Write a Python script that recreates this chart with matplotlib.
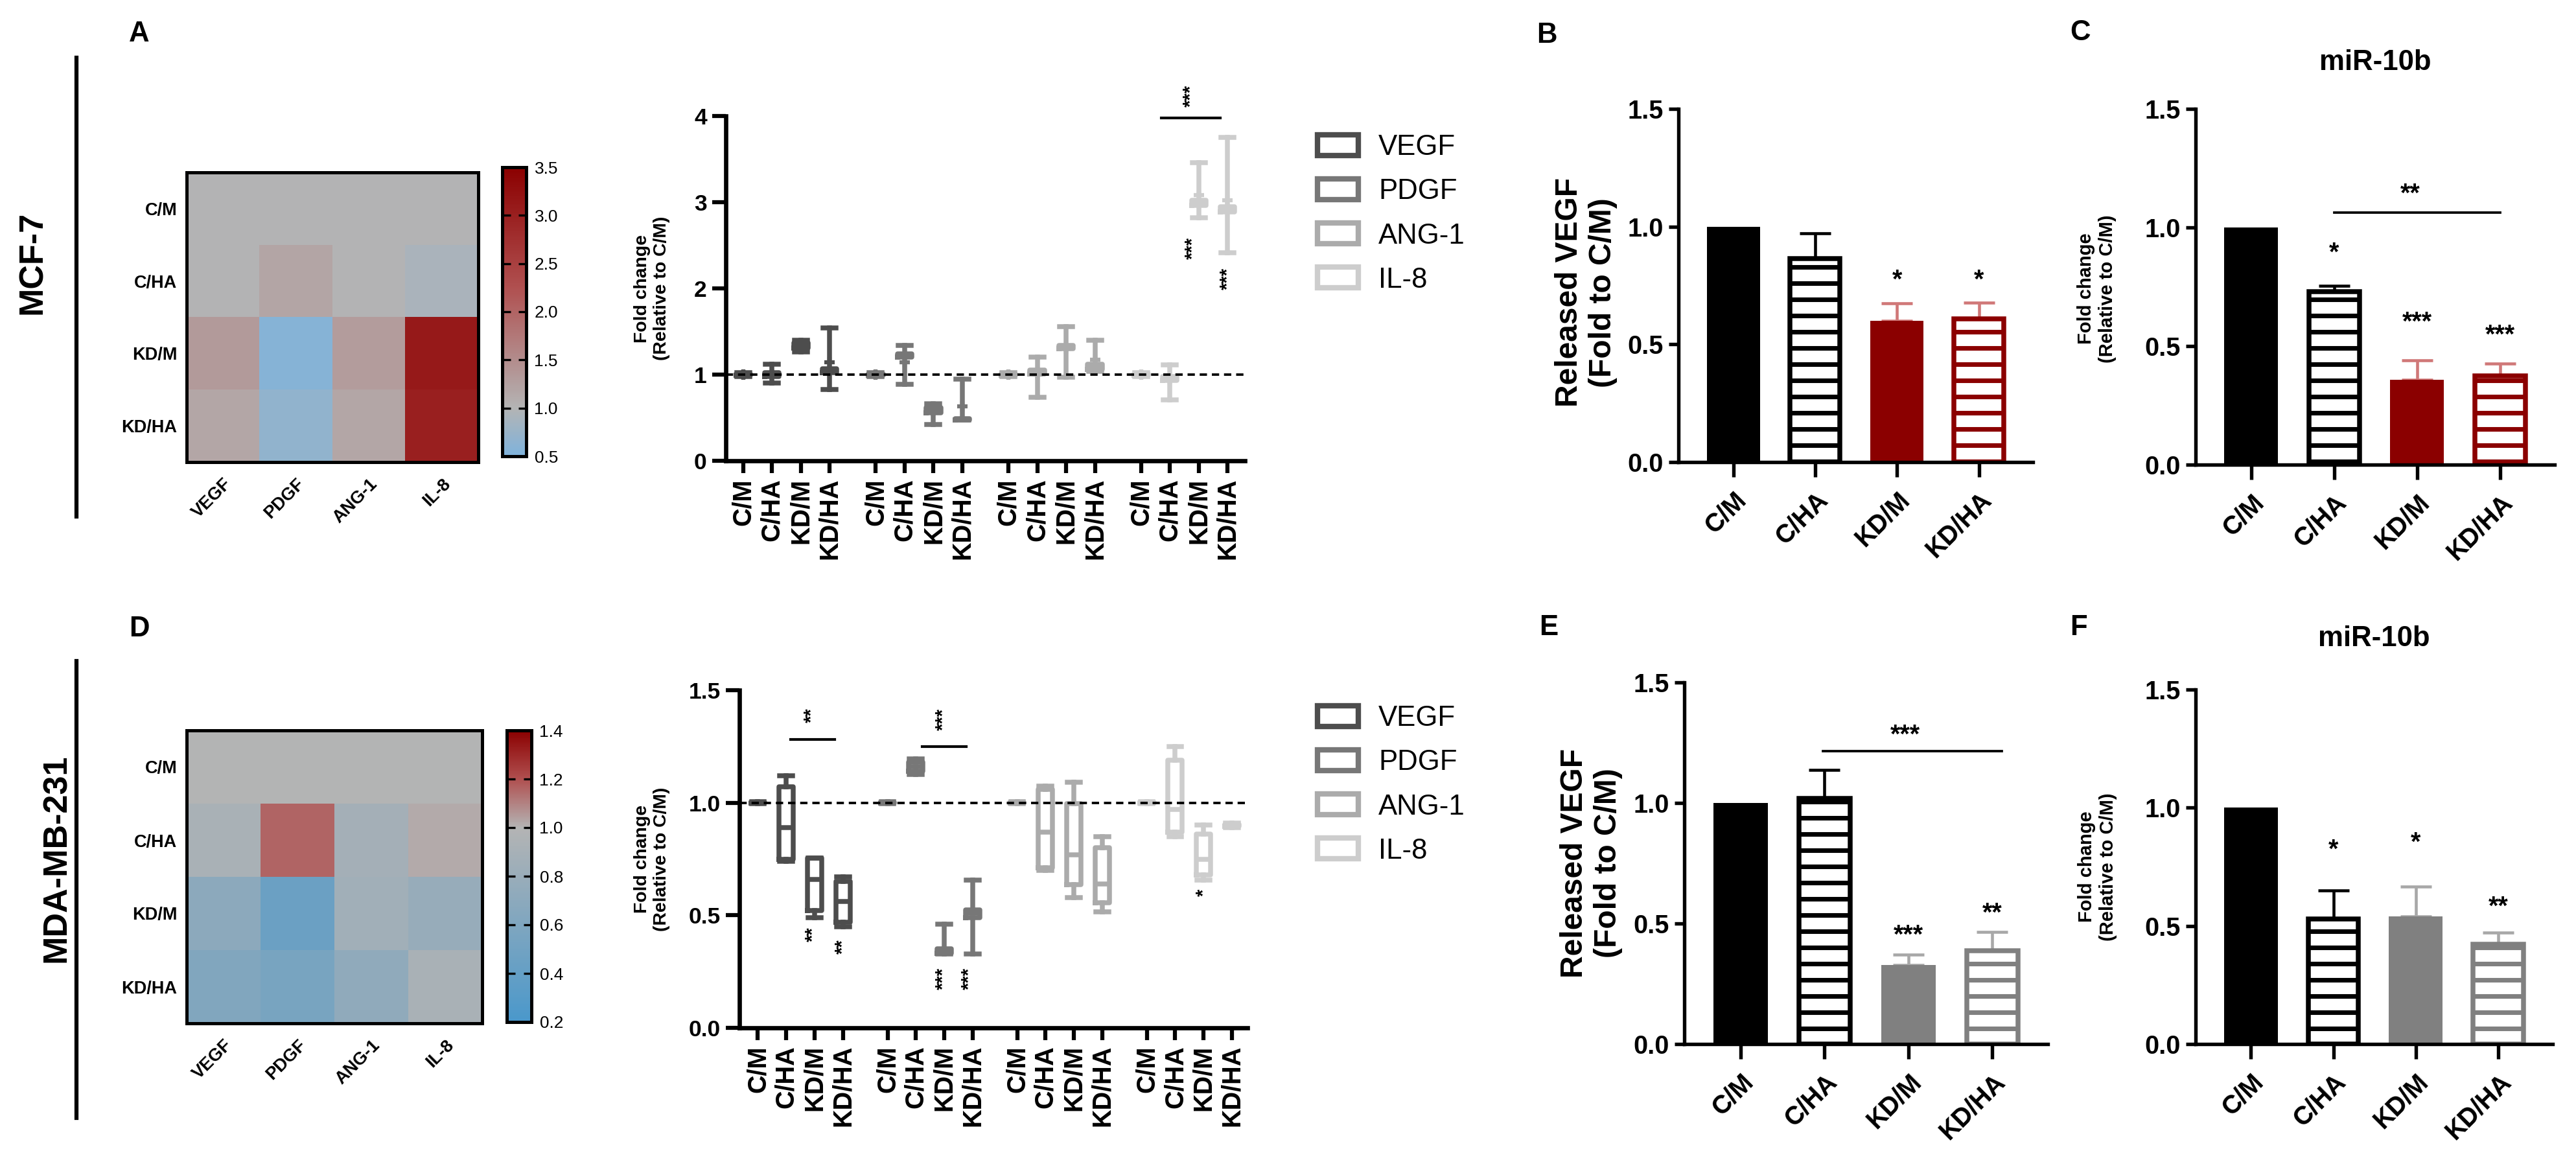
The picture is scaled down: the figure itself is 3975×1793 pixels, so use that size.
import numpy as np
import matplotlib
matplotlib.use('Agg')
import matplotlib.pyplot as plt
from matplotlib.colors import LinearSegmentedColormap
from matplotlib.patches import Patch
from matplotlib.lines import Line2D

plt.rcParams['font.family'] = ['Liberation Sans', 'DejaVu Sans']
plt.rcParams['hatch.linewidth'] = 1.7

# ---------------- data ----------------
groups = ['C/M', 'C/HA', 'KD/M', 'KD/HA']
cytokines = ['VEGF', 'PDGF', 'ANG-1', 'IL-8']
cyt_colors = ['#4d4d4d', '#777777', '#ababab', '#cdcdcd']

# heatmaps (rows = groups, cols = cytokines), fold change
heat_mcf7 = [[1.00, 1.00, 1.00, 1.00],
             [1.00, 1.18, 1.00, 0.92],
             [1.33, 0.58, 1.30, 3.10],
             [1.17, 0.68, 1.17, 3.00]]
heat_mda = [[1.00, 1.00, 1.00, 1.00],
            [0.92, 1.16, 0.88, 1.02],
            [0.70, 0.45, 0.86, 0.79],
            [0.62, 0.55, 0.73, 0.92]]
cbar_ticks_mcf7 = [0.5, 1.0, 1.5, 2.0, 2.5, 3.0, 3.5]
cbar_ticks_mda = [0.2, 0.4, 0.6, 0.8, 1.0, 1.2, 1.4]

# box plots: (min, q1, median, q3, max) per group
mcf7_vegf = [(0.98, 0.99, 1.00, 1.01, 1.02), (0.90, 0.98, 1.00, 1.02, 1.12),
             (1.26, 1.31, 1.34, 1.37, 1.40), (0.83, 1.02, 1.05, 1.07, 1.54)]
mcf7_pdgf = [(0.98, 0.99, 1.00, 1.01, 1.02), (0.89, 1.20, 1.22, 1.24, 1.34),
             (0.42, 0.56, 0.59, 0.62, 0.66), (0.47, 0.47, 0.48, 0.49, 0.95)]
mcf7_ang1 = [(0.98, 0.99, 1.00, 1.01, 1.02), (0.74, 1.01, 1.03, 1.05, 1.20),
             (0.97, 1.30, 1.32, 1.34, 1.56), (1.04, 1.06, 1.09, 1.12, 1.40)]
mcf7_il8 = [(0.98, 0.99, 1.00, 1.01, 1.02), (0.71, 0.93, 0.96, 0.98, 1.11),
            (2.82, 2.96, 2.99, 3.02, 3.46), (2.41, 2.89, 2.92, 2.95, 3.75)]
mcf7_means = [[1.00, 1.00, 1.33, 1.14], [1.00, 1.14, 0.58, 0.63],
              [1.00, 1.00, 1.30, 1.17], [1.00, 0.95, 3.08, 3.02]]

mda_vegf = [(0.995, 0.998, 1.00, 1.002, 1.005), (0.74, 0.75, 0.89, 1.07, 1.12),
            (0.49, 0.52, 0.66, 0.755, 0.755), (0.45, 0.47, 0.56, 0.65, 0.67)]
mda_pdgf = [(0.995, 0.998, 1.00, 1.002, 1.005), (1.125, 1.14, 1.16, 1.18, 1.195),
            (0.327, 0.33, 0.33, 0.35, 0.46), (0.327, 0.49, 0.51, 0.525, 0.655)]
mda_ang1 = [(0.995, 0.998, 1.00, 1.002, 1.005), (0.70, 0.71, 0.87, 1.06, 1.075),
            (0.58, 0.635, 0.77, 0.995, 1.09), (0.515, 0.555, 0.64, 0.80, 0.85)]
mda_il8 = [(0.995, 0.998, 1.00, 1.002, 1.005), (0.85, 0.87, 0.97, 1.19, 1.25),
           (0.655, 0.68, 0.75, 0.86, 0.90), (0.89, 0.895, 0.90, 0.905, 0.91)]

# significance marks in box plots: (position index, y, text)
mcf7_box_stars = [(15.6, 2.47, '***'), (16.8, 2.11, '***')]
mcf7_box_bracket = (14.5, 16.55, 3.98, 4.23, '***')
mda_box_stars = [(1.95, 0.415, '**'), (3.0, 0.36, '**'),
                 (6.55, 0.22, '***'), (7.45, 0.22, '***'), (15.72, 0.60, '*')]
mda_box_brackets = [(1.16, 2.7, 1.28, 1.39, '**'), (5.8, 7.35, 1.25, 1.37, '***')]

# bar charts
B_vals = [1.00, 0.864, 0.600, 0.607]
B_err = [0.0, 0.107, 0.075, 0.070]
B_stars = [(2, 0.77, '*'), (3, 0.77, '*')]

C_vals = [1.00, 0.730, 0.358, 0.373]
C_err = [0.0, 0.023, 0.082, 0.052]
C_stars = [(1, 0.89, '*'), (2, 0.60, '***'), (3, 0.545, '***')]
C_bracket = (1.0, 3.0, 1.064, 1.14, '**')

E_vals = [1.00, 1.020, 0.327, 0.388]
E_err = [0.0, 0.117, 0.043, 0.076]
E_stars = [(2, 0.45, '***'), (3, 0.54, '**')]
E_bracket = (0.98, 3.11, 1.216, 1.28, '***')

F_vals = [1.00, 0.530, 0.540, 0.423]
F_err = [0.0, 0.120, 0.127, 0.050]
F_stars = [(1, 0.82, '*'), (2, 0.85, '*'), (3, 0.58, '**')]

# ---------------- figure ----------------
W, H = 3975, 1793
fig = plt.figure(figsize=(W / 300, H / 300), dpi=300)


def rect(l, t, r, b):
    return [l / W, 1 - b / H, (r - l) / W, (b - t) / H]


def heatmap(r_ax, r_cax, data, vmin, vmax, low, ticks):
    ax = fig.add_axes(rect(*r_ax))
    f = (1.0 - vmin) / (vmax - vmin)
    cmap = LinearSegmentedColormap.from_list(
        'bgr', [(0, low), (f, '#b4b4b4'), (f + (1 - f) * 0.5, '#b05050'), (1, '#8b0000')])
    im = ax.imshow(np.array(data), cmap=cmap, vmin=vmin, vmax=vmax, aspect='auto')
    ax.set_xticks(range(4), cytokines, rotation=45, ha='right', va='top',
                  rotation_mode='anchor', fontsize=6.5, fontweight='bold')
    ax.set_yticks(range(4), groups, fontsize=6.5, fontweight='bold')
    ax.tick_params(length=0)
    ax.tick_params(axis='x', pad=5)
    for s in ax.spines.values():
        s.set_linewidth(1.2)
    cax = fig.add_axes(rect(*r_cax))
    cb = fig.colorbar(im, cax=cax, ticks=ticks)
    cb.outline.set_linewidth(1.2)
    cax.tick_params(direction='in', left=True, right=True, length=3, width=0.8,
                    labelsize=6.3, pad=3)
    cax.set_yticklabels([f'{t:.1f}' for t in ticks])


heatmap((288, 266, 738, 713), (775, 258, 812, 704), heat_mcf7, 0.5, 3.5, '#7fb3dc',
        cbar_ticks_mcf7)
heatmap((288, 1127, 744, 1579), (782, 1127, 820, 1577), heat_mda, 0.2, 1.4, '#4a98cb',
        cbar_ticks_mda)


def star_text(ax, x, y, s, fs, rot=0):
    ax.text(x, y, s, ha='center', va='center', fontsize=fs, fontweight='bold',
            rotation=rot, clip_on=False)


def boxplot(r_ax, series, means, gap, xlim, ylim, yticks, ylabels, ylab_x):
    ax = fig.add_axes(rect(*r_ax))
    for ci, cyt in enumerate(cytokines):
        col = cyt_colors[ci]
        stats = []
        for gi in range(4):
            lo, q1, med, q3, hi = series[ci][gi]
            d = dict(whislo=lo, q1=q1, med=med, q3=q3, whishi=hi, fliers=[])
            if means is not None:
                d['mean'] = means[ci][gi]
            stats.append(d)
        pos = [ci * gap + gi for gi in range(4)]
        lw = 1.8
        ax.bxp(stats, positions=pos, widths=0.5, capwidths=0.45,
               showmeans=means is not None, showfliers=False,
               boxprops=dict(color=col, lw=lw), whiskerprops=dict(color=col, lw=lw),
               capprops=dict(color=col, lw=lw), medianprops=dict(color=col, lw=lw),
               meanprops=dict(marker='+', markeredgecolor=col, markersize=4, mew=1.5),
               manage_ticks=False)
    ax.axhline(1.0, color='black', ls=(0, (3, 2)), lw=0.9, zorder=5)
    ticks = [ci * gap + gi for ci in range(4) for gi in range(4)]
    ax.set_xticks(ticks, groups * 4, rotation=90, ha='center', va='top',
                  fontsize=9.5, fontweight='bold')
    ax.set_xlim(*xlim)
    ax.set_ylim(*ylim)
    ax.set_yticks(yticks, ylabels, fontsize=8.5, fontweight='bold')
    ax.tick_params(axis='y', length=5, width=1.5, pad=2)
    ax.tick_params(axis='x', length=4.5, width=1.5, pad=2)
    for s in ['top', 'right']:
        ax.spines[s].set_visible(False)
    for s in ['left', 'bottom']:
        ax.spines[s].set_linewidth(1.6)
    ax.set_ylabel('Fold change\n(Relative to C/M)', fontsize=6.8, fontweight='bold',
                  va='center')
    ax.yaxis.set_label_coords(ylab_x, 0.5)
    return ax


axA2 = boxplot((1120, 179, 1921, 711), [mcf7_vegf, mcf7_pdgf, mcf7_ang1, mcf7_il8],
               mcf7_means, 4.6, (-0.6, 17.4), (0, 4), [0, 1, 2, 3, 4],
               ['0', '1', '2', '3', '4'], -0.142)
for x, y, s in mcf7_box_stars:
    star_text(axA2, x, y, s, 7, rot=90)
x0, x1, yb, ys, s = mcf7_box_bracket
axA2.plot([x0, x1], [yb, yb], color='black', lw=1.0, clip_on=False)
star_text(axA2, (x0 + x1) / 2, ys, s, 7, rot=90)

axD2 = boxplot((1141, 1065, 1925, 1586), [mda_vegf, mda_pdgf, mda_ang1, mda_il8],
               None, 4.57, (-0.65, 17.26), (0, 1.5), [0, 0.5, 1.0, 1.5],
               ['0.0', '0.5', '1.0', '1.5'], -0.172)
for x, y, s in mda_box_stars:
    star_text(axD2, x, y, s, 7, rot=90)
for x0, x1, yb, ys, s in mda_box_brackets:
    axD2.plot([x0, x1], [yb, yb], color='black', lw=1.0, clip_on=False)
    star_text(axD2, (x0 + x1) / 2 - 0.03, ys, s, 7, rot=90)

# legends
handles = [Patch(facecolor='white', edgecolor=c, lw=2.0) for c in cyt_colors]
for yc in (330, 1211):
    fig.legend(handles, cytokines, loc='center left',
               bbox_to_anchor=(2033 / W, 1 - yc / H), frameon=False, fontsize=10.5,
               handlelength=1.45, handleheight=0.75, handletextpad=0.7,
               labelspacing=0.62, borderpad=0, borderaxespad=0)


def barchart(r_ax, vals, errs, colors, hatched, ecolors, stars, bracket, ylabel,
             ylab_fs, ylab_x, ylab_y, title=None, title_pad=15):
    ax = fig.add_axes(rect(*r_ax))
    x = np.arange(len(vals))
    for i in range(len(vals)):
        if hatched[i]:
            ax.bar(x[i], vals[i], width=0.61, facecolor='white', edgecolor=colors[i],
                   hatch='--', lw=1.8, zorder=2)
        else:
            ax.bar(x[i], vals[i], width=0.65, color=colors[i], lw=0, zorder=2)
        if errs[i] > 0:
            ax.errorbar(x[i], vals[i], yerr=[[0], [errs[i]]], fmt='none',
                        ecolor=ecolors[i], elinewidth=1.1, capsize=5.8, capthick=1.1,
                        zorder=1)
    for xi, y, s in stars:
        star_text(ax, xi, y, s, 9.5)
    if bracket is not None:
        x0, x1, yb, ys, s = bracket
        ax.plot([x0, x1], [yb, yb], color='black', lw=0.9)
        star_text(ax, (x0 + x1) / 2 - 0.08, ys, s, 9.5)
    ax.set_xlim(-0.67, 3.66)
    ax.set_ylim(0, 1.5)
    ax.set_yticks([0, 0.5, 1.0, 1.5], ['0.0', '0.5', '1.0', '1.5'], fontsize=9.5,
                  fontweight='bold')
    ax.set_xticks(x, groups, rotation=45, ha='right', va='top', rotation_mode='anchor',
                  fontsize=9.5, fontweight='bold')
    ax.tick_params(axis='y', length=3.5, width=1.3, pad=2)
    ax.tick_params(axis='x', length=5.4, width=1.3, pad=4)
    for s in ['top', 'right']:
        ax.spines[s].set_visible(False)
    for s in ['left', 'bottom']:
        ax.spines[s].set_linewidth(1.3)
    ax.set_ylabel(ylabel, fontsize=ylab_fs, fontweight='bold', va='center')
    ax.yaxis.set_label_coords(ylab_x, ylab_y)
    if title:
        ax.set_title(title, fontsize=10.5, fontweight='bold', pad=title_pad)
    return ax


red = '#8b0000'
gray = '#808080'
barchart((2590, 168, 3137, 713), B_vals, B_err, ['black', 'black', red, red],
         [False, True, False, True], ['black', 'black', '#d07878', '#d07878'],
         B_stars, None, 'Released VEGF\n(Fold to C/M)', 11.5, -0.26, 0.48)
barchart((3388, 168, 3942, 717), C_vals, C_err, ['black', 'black', red, red],
         [False, True, False, True], ['black', 'black', '#d07878', '#d07878'],
         C_stars, C_bracket, 'Fold change\n(Relative to C/M)', 7, -0.275, 0.495,
         title='miR-10b', title_pad=14.5)
barchart((2599, 1053, 3160, 1611), E_vals, E_err, ['black', 'black', gray, gray],
         [False, True, False, True], ['black', 'black', '#a8a8a8', '#a8a8a8'],
         E_stars, E_bracket, 'Released VEGF\n(Fold to C/M)', 11.5, -0.255, 0.5)
barchart((3388, 1064, 3939, 1611), F_vals, F_err, ['black', 'black', gray, gray],
         [False, True, False, True], ['black', 'black', '#a8a8a8', '#a8a8a8'],
         F_stars, None, 'Fold change\n(Relative to C/M)', 7, -0.275, 0.5,
         title='miR-10b', title_pad=16)

# panel letters
for letter, (px, py) in zip('ABCDEF', [(215, 53), (2387, 55), (3210, 51),
                                        (215, 971), (2390, 968), (3207, 969)]):
    fig.text(px / W, 1 - py / H, letter, fontsize=10.5, fontweight='bold',
             ha='center', va='center')

# cell-line side labels and separators
fig.add_artist(Line2D([118 / W, 118 / W], [1 - 89 / H, 1 - 797 / H], color='black', lw=1.5))
fig.add_artist(Line2D([118 / W, 118 / W], [1 - 1020 / H, 1 - 1725 / H], color='black', lw=1.5))
fig.text(50 / W, 1 - 405 / H, 'MCF-7', rotation=90, fontsize=12.5, fontweight='bold',
         ha='center', va='center')
fig.text(88 / W, 1 - 1324 / H, 'MDA-MB-231', rotation=90, fontsize=12.5,
         fontweight='bold', ha='center', va='center')

fig.savefig('out.png', dpi=300, facecolor='white')
